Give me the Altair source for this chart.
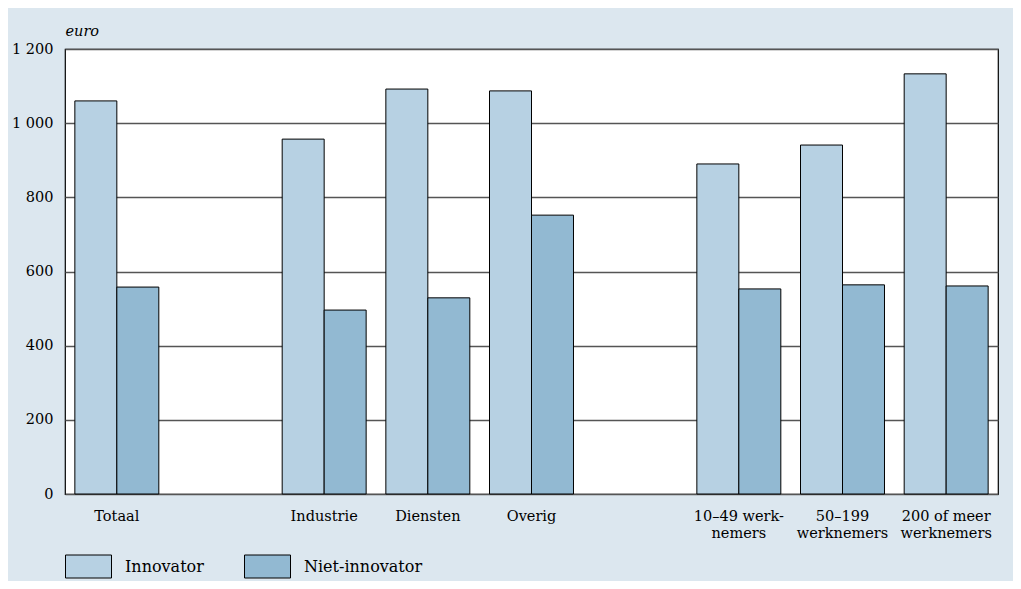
import altair as alt
import pandas as pd

categories = ["Totaal", "Industrie", "Diensten", "Overig",
              "10–49 werk-|nemers", "50–199|werknemers", "200 of meer|werknemers"]
slots = ["Totaal", "_gap1", "Industrie", "Diensten", "Overig", "_gap2",
         "10–49 werk-|nemers", "50–199|werknemers", "200 of meer|werknemers"]
series = ["Innovator", "Niet-innovator"]
innovator = [1060, 957, 1092, 1087, 890, 941, 1133]
niet_innovator = [558, 496, 529, 752, 553, 564, 561]
y_ticks = [0, 200, 400, 600, 800, 1000, 1200]
colors = ["#b7d1e3", "#92b9d2"]

rows = []
for c, a, b in zip(categories, innovator, niet_innovator):
    rows.append({"cat": c, "series": series[0], "value": a})
    rows.append({"cat": c, "series": series[1], "value": b})
df = pd.DataFrame(rows)

FONT = "DejaVu Serif"

chart = alt.Chart(df).mark_bar(stroke="black", strokeWidth=1).encode(
    x=alt.X("cat:N", sort=slots,
            scale=alt.Scale(domain=slots, paddingInner=0.19, paddingOuter=0.095),
            axis=alt.Axis(title=None, labelAngle=0, ticks=False, domain=False,
                          labelFont=FONT, labelFontSize=14.5, labelColor="black",
                          labelPadding=15, labelLineHeight=17.5,
                          labelExpr="indexof(datum.label, '_gap') >= 0 ? '' : split(datum.label, '|')")),
    xOffset=alt.XOffset("series:N", sort=series, scale=alt.Scale(paddingInner=0, paddingOuter=0)),
    y=alt.Y("value:Q", scale=alt.Scale(domain=[0, 1200], nice=False),
            axis=alt.Axis(title="euro", titleAngle=0, titleX=0, titleY=-14,
                          titleAlign="left", titleBaseline="alphabetic",
                          titleFont=FONT, titleFontStyle="italic", titleFontWeight="normal",
                          titleFontSize=14.5, titleColor="black",
                          values=y_ticks, ticks=False, domain=False,
                          labelFont=FONT, labelFontSize=14.5, labelColor="black",
                          labelPadding=12,
                          labelExpr="replace(format(datum.value, ','), ',', ' ')",
                          grid=True, gridColor="#555555", gridWidth=1.3)),
    color=alt.Color("series:N", sort=series,
                    scale=alt.Scale(domain=series, range=colors),
                    legend=alt.Legend(title=None, orient="none", direction="horizontal",
                                      legendX=0, legendY=494, padding=0,
                                      symbolType="M-1,-0.5H1V0.5H-1Z", symbolSize=2116,
                                      symbolStrokeColor="black", symbolStrokeWidth=1,
                                      symbolOpacity=1,
                                      labelFont=FONT, labelFontSize=16, labelColor="black",
                                      labelOffset=13, columnPadding=38, labelLimit=300)),
).properties(
    width=933, height=445,
    background="#dce7ef",
    padding={"left": 57, "top": 41, "right": 15, "bottom": 87},
    autosize=alt.AutoSizeParams(type="none"),
).configure_view(
    stroke="black", strokeWidth=1.2, fill="white"
)

chart.save("out.html", embed_options={"renderer": "svg", "actions": False})
